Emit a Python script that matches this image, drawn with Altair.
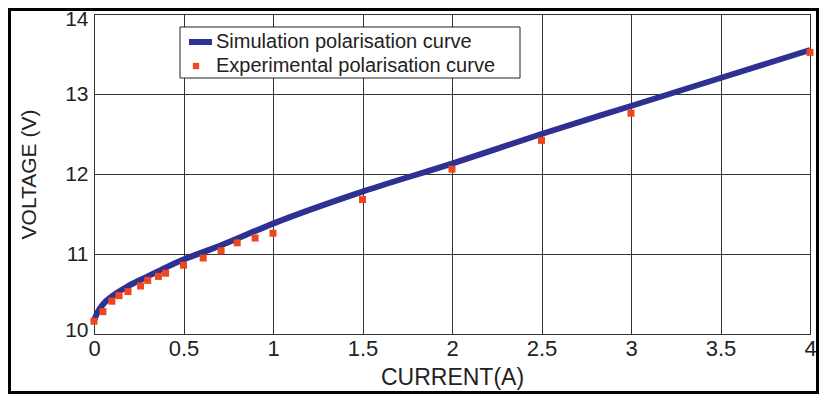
import altair as alt
import pandas as pd

# Simulation curve
sim_current = [0, 0.02, 0.05, 0.1, 0.2, 0.3, 0.4, 0.5, 0.7, 1.0, 1.5, 2.0, 2.5, 3.0, 3.5, 4.0]
sim_voltage = [10.17, 10.27, 10.37, 10.47, 10.61, 10.72, 10.83, 10.93, 11.10, 11.38, 11.78, 12.13, 12.50, 12.85, 13.20, 13.55]

# Experimental points
exp_current = [0.0, 0.05, 0.10, 0.14, 0.19, 0.26, 0.30, 0.36, 0.40, 0.50, 0.61, 0.71, 0.80, 0.90, 1.00, 1.50, 2.00, 2.50, 3.00, 4.00]
exp_voltage = [10.16, 10.28, 10.41, 10.48, 10.53, 10.60, 10.67, 10.72, 10.76, 10.86, 10.95, 11.04, 11.14, 11.20, 11.26, 11.68, 12.06, 12.42, 12.76, 13.52]

SIM = "Simulation polarisation curve"
EXP = "Experimental polarisation curve"
SIM_COLOR = "#2e3192"
EXP_COLOR = "#f0461e"

sim_df = pd.DataFrame({"current": sim_current, "voltage": sim_voltage, "series": SIM})
exp_df = pd.DataFrame({"current": exp_current, "voltage": exp_voltage, "series": EXP})

x_ticks = [0, 0.5, 1, 1.5, 2, 2.5, 3, 3.5, 4]
y_ticks = [10, 11, 12, 13, 14]

FONT = "Liberation Sans"

W, H = 716, 320
PAD = {"left": 86, "top": 6, "right": 9, "bottom": 60}

common_legend = dict(
    title=None,
    orient="none",
    padding=0,
    labelFont=FONT,
    labelFontSize=20,
    labelColor="#222",
    labelLimit=400,
)

x_enc = alt.X(
    "current:Q",
    scale=alt.Scale(domain=[0, 4], nice=False),
    axis=alt.Axis(values=x_ticks, title="CURRENT(A)", format="~g"),
)
y_enc = alt.Y(
    "voltage:Q",
    scale=alt.Scale(domain=[10, 14], nice=False),
    axis=alt.Axis(values=y_ticks, title="VOLTAGE (V)"),
)

# legend box (decoration behind the two legend entries)
legend_box = alt.Chart(pd.DataFrame({"a": [0]})).mark_rect(
    fill="white", stroke="#222", strokeWidth=1
).encode(
    x=alt.value(86), x2=alt.value(426), y=alt.value(13), y2=alt.value(64)
)

line = alt.Chart(sim_df).mark_line(strokeWidth=6, interpolate="monotone").encode(
    x=x_enc,
    y=y_enc,
    stroke=alt.Stroke(
        "series:N",
        scale=alt.Scale(domain=[SIM], range=[SIM_COLOR]),
        legend=alt.Legend(
            legendX=92, legendY=13.5, symbolType="stroke", symbolStrokeWidth=6,
            symbolSize=529, labelOffset=1, **common_legend
        ),
    ),
)

pts = alt.Chart(exp_df).mark_square(size=49, opacity=1).encode(
    x=x_enc,
    y=y_enc,
    fill=alt.Fill(
        "series:N",
        scale=alt.Scale(domain=[EXP], range=[EXP_COLOR]),
        legend=alt.Legend(
            legendX=92, legendY=42, symbolType="square", symbolSize=40,
            symbolOffset=0, labelOffset=10, symbolStrokeWidth=0,
            symbolOpacity=1, **common_legend
        ),
    ),
)

# outer black frame around the whole figure
frame = alt.Chart(pd.DataFrame({"a": [0]})).mark_rect(
    fill=None, stroke="black", strokeWidth=3
).encode(
    x=alt.value(-PAD["left"] + 1.5),
    x2=alt.value(W + PAD["right"] - 1.5),
    y=alt.value(-PAD["top"] + 1.5),
    y2=alt.value(H + PAD["bottom"] - 1.5),
)

chart = alt.layer(legend_box, line, pts, frame).properties(
    width=W,
    height=H,
    autosize=alt.AutoSizeParams(type="none"),
    padding=PAD,
    background="white",
).configure_view(
    stroke="#444", strokeWidth=1
).configure_axis(
    grid=True,
    gridColor="#333",
    gridOpacity=1,
    gridWidth=1,
    domain=True,
    domainColor="#333",
    ticks=False,
    zindex=1,
    labelFont=FONT,
    labelColor="#222",
    titleFont=FONT,
    titleFontWeight="normal",
    titleColor="#222",
).configure_axisX(
    labelFontSize=22, titleFontSize=23, labelPadding=4, titlePadding=7, labelFlush=False
).configure_axisY(
    labelFontSize=21, titleFontSize=21, labelPadding=6, titlePadding=25,
    labelFlush=True, labelFlushOffset=6
)

chart.save("out.html", embed_options={"renderer": "svg", "actions": False})
